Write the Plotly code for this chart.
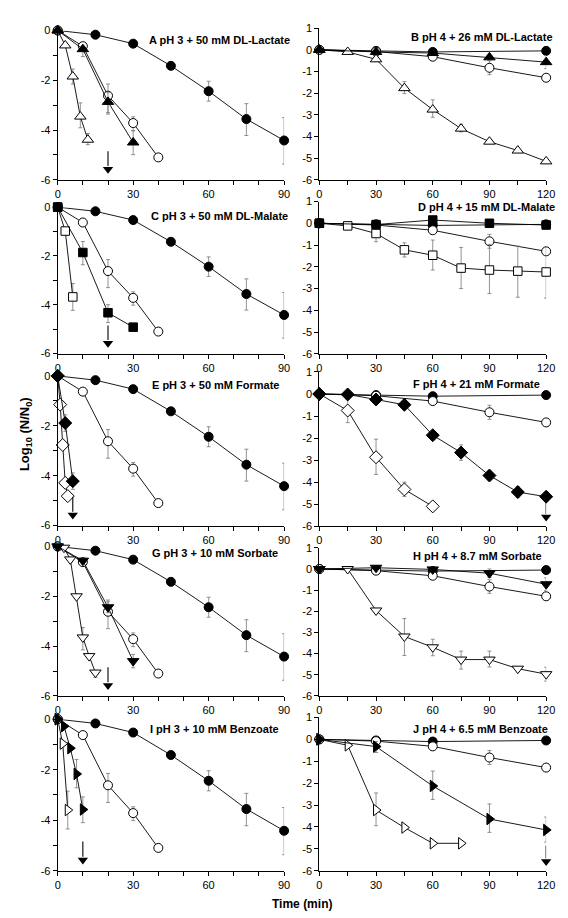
import plotly.graph_objects as go

# ---------------- DATA ----------------
# pH 3 reference curves (shared in A, C, E, G, I)
ctrl3_x = [0, 15, 30, 45, 60, 75, 90]
ctrl3_y = [0, -0.17, -0.53, -1.42, -2.44, -3.56, -4.42]
ctrl3_ep = [0, 0, 0, 0, 0.40, 0.62, 0.92]
ctrl3_em = [0, 0, 0, 0, 0.40, 0.66, 0.95]

oc3_x = [0, 10, 20, 30, 40]
oc3_y = [0, -0.63, -2.62, -3.72, -5.10]
oc3_ep = [0, 0.10, 0.47, 0.25, 0]
oc3_em = [0, 0.10, 0.68, 0.30, 0]

# pH 4 reference curves (shared in B, D, F, H, J)
ctrl4_x = [0, 30, 60, 120]
ctrl4_y = [0, -0.05, -0.10, -0.05]
oc4_x = [0, 30, 60, 90, 120]
oc4_y = [0, -0.08, -0.32, -0.83, -1.29]
oc4_ep = [0, 0, 0.05, 0.32, 0]
oc4_em = [0, 0, 0.05, 0.32, 0]

# A: pH 3 + 50 mM DL-Lactate
a_fill_x = [0, 10, 20, 30]
a_fill_y = [0, -0.75, -2.87, -4.50]
a_fill_ep = [0, 0.10, 0.37, 0.47]
a_fill_em = [0, 0.30, 0.49, 0.49]
a_open_x = [0, 3, 6, 9, 12]
a_open_y = [0, -0.60, -1.85, -3.46, -4.39]
a_open_ep = [0, 0, 0.30, 0.55, 0.25]
a_open_em = [0, 0, 0.30, 0.45, 0.20]

# B: pH 4 + 26 mM DL-Lactate
b_fill_x = [0, 30, 60, 90, 120]
b_fill_y = [0, -0.10, -0.15, -0.35, -0.57]
b_fill_ep = [0, 0, 0, 0.10, 0.30]
b_fill_em = [0, 0, 0, 0.10, 0.30]
b_open_x = [0, 15, 30, 45, 60, 75, 90, 105, 120]
b_open_y = [0, -0.10, -0.44, -1.77, -2.76, -3.64, -4.24, -4.65, -5.15]
b_open_ep = [0, 0, 0.10, 0.30, 0.45, 0.20, 0.05, 0, 0]
b_open_em = [0, 0, 0.10, 0.25, 0.35, 0.15, 0.05, 0, 0]

# C: pH 3 + 50 mM DL-Malate
c_fill_x = [0, 10, 20, 30]
c_fill_y = [0, -1.86, -4.33, -4.92]
c_fill_ep = [0, 0.45, 0.33, 0]
c_fill_em = [0, 0.50, 0.40, 0]
c_open_x = [0, 3, 6]
c_open_y = [0, -0.98, -3.68]
c_open_ep = [0, 0, 0.55]
c_open_em = [0, 0, 0.55]

# D: pH 4 + 15 mM DL-Malate
d_fill_x = [0, 30, 60, 90, 120]
d_fill_y = [0, -0.06, 0.15, 0.0, -0.08]
d_fill_ep = [0, 0, 0, 0, 0]
d_fill_em = [0, 0, 0, 0, 0]
d_open_x = [0, 15, 30, 45, 60, 75, 90, 105, 120]
d_open_y = [0, -0.12, -0.47, -1.22, -1.47, -2.06, -2.15, -2.20, -2.24]
d_open_ep = [0, 0, 0.32, 0.32, 0.70, 0.95, 1.18, 1.15, 1.14]
d_open_em = [0, 0, 0.38, 0.33, 0.68, 0.94, 1.08, 1.20, 1.20]

# E: pH 3 + 50 mM Formate
e_fill_x = [0, 3, 6]
e_fill_y = [0, -1.89, -4.22]
e_fill_ep = [0, 0.33, 0.33]
e_fill_em = [0, 0.33, 0.33]
e_open_x = [0, 1, 2, 3, 4]
e_open_y = [0, -1.15, -2.77, -4.29, -4.82]
e_open_ep = [0, 0, 0, 0, 0]
e_open_em = [0, 0, 0, 0, 0]

# F: pH 4 + 21 mM Formate
f_fill_x = [0, 15, 30, 45, 60, 75, 90, 105, 120]
f_fill_y = [0, -0.02, -0.25, -0.49, -1.87, -2.66, -3.70, -4.45, -4.66]
f_fill_ep = [0, 0, 0, 0.05, 0.15, 0.35, 0.20, 0.25, 0]
f_fill_em = [0, 0, 0, 0.05, 0.15, 0.35, 0.20, 0.25, 0]
f_open_x = [0, 15, 30, 45, 60]
f_open_y = [0, -0.75, -2.87, -4.33, -5.10]
f_open_ep = [0, 0.50, 0.82, 0.33, 0]
f_open_em = [0, 0.55, 0.78, 0.32, 0]

# G: pH 3 + 10 mM Sorbate
g_fill_x = [0, 10, 20, 30]
g_fill_y = [0, -0.57, -2.44, -4.60]
g_fill_ep = [0, 0.05, 0.22, 0.27]
g_fill_em = [0, 0.05, 0.22, 0.27]
g_open_x = [0, 2.5, 5, 7.5, 10, 12.5, 15]
g_open_y = [0, -0.05, -0.52, -2.00, -3.65, -4.40, -5.06]
g_open_ep = [0, 0, 0, 0, 0.40, 0, 0]
g_open_em = [0, 0, 0, 0, 0.50, 0, 0.20]

# H: pH 4 + 8.7 mM Sorbate
h_fill_x = [0, 30, 60, 90, 120]
h_fill_y = [0, 0.06, -0.02, -0.20, -0.72]
h_fill_ep = [0, 0, 0, 0.20, 0.30]
h_fill_em = [0, 0, 0, 0.20, 0.30]
h_open_x = [0, 15, 30, 45, 60, 75, 90, 105, 120]
h_open_y = [0, 0, -1.96, -3.19, -3.70, -4.28, -4.28, -4.71, -4.97]
h_open_ep = [0, 0, 0, 0.85, 0.38, 0.40, 0.40, 0, 0.33]
h_open_em = [0, 0, 0, 0.90, 0.40, 0.45, 0.35, 0, 0.33]

# I: pH 3 + 10 mM Benzoate
i_fill_x = [0, 2.5, 5, 7.5, 10]
i_fill_y = [0, -0.28, -1.15, -2.17, -3.58]
i_fill_ep = [0, 0, 0.10, 0.57, 0.50]
i_fill_em = [0, 0, 0.10, 0.55, 0.52]
i_open_x = [0, 2, 4]
i_open_y = [0, -0.97, -3.60]
i_open_ep = [0, 0, 0.75]
i_open_em = [0, 0, 0.75]

# J: pH 4 + 6.5 mM Benzoate
j_fill_x = [0, 30, 60, 90, 120]
j_fill_y = [0, -0.33, -2.13, -3.64, -4.14]
j_fill_ep = [0, 0.23, 0.68, 0.69, 0.59]
j_fill_em = [0, 0.27, 0.62, 0.61, 0.56]
j_open_x = [0, 15, 30, 45, 60, 75]
j_open_y = [0, -0.27, -3.23, -4.03, -4.75, -4.75]
j_open_ep = [0, 0, 0.78, 0, 0, 0]
j_open_em = [0, 0, 0.72, 0, 0.05, 0]

# below-detection arrows (time, min)
arrow_x = {"A": 20, "C": 20, "E": 6, "F": 120, "G": 20, "I": 10, "J": 120}

panel_titles = {
    "A": "A pH 3 + 50 mM DL-Lactate",
    "B": "B pH 4 + 26 mM DL-Lactate",
    "C": "C pH 3 + 50 mM DL-Malate",
    "D": "D pH 4 + 15 mM DL-Malate",
    "E": "E pH 3 + 50 mM Formate",
    "F": "F pH 4 + 21 mM Formate",
    "G": "G pH 3 + 10 mM Sorbate",
    "H": "H pH 4 + 8.7 mM Sorbate",
    "I": "I pH 3 + 10 mM Benzoate",
    "J": "J pH 4 + 6.5 mM Benzoate",
}

left_xticks = [0, 30, 60, 90]
left_xminor = [10, 20, 40, 50, 70, 80]
right_xticks = [0, 30, 60, 90, 120]
right_xminor = [15, 45, 75, 105]
left_yticks = [0, -2, -4, -6]
left_yminor = [-1, -3, -5]
right_yticks = [1, 0, -1, -2, -3, -4, -5, -6]

# ---------------- LAYOUT GEOMETRY (pixels) ----------------
W, H = 568, 918
LX = (47.7, 279.0)
RX = (315.0, 546.7)
panel_geom = {  # (top px, bottom px)
    "A": (16.7, 168), "B": (14.3, 168),
    "C": (195.7, 344), "D": (190, 344.3),
    "E": (366.7, 518.3), "F": (362.7, 519),
    "G": (539.5, 691), "H": (540.9, 691),
    "I": (714.5, 868), "J": (712.8, 868),
}
title_pos = {  # (right edge px, center y px)
    "A": (287, 26), "B": (556, 23.5), "C": (285, 205), "D": (558, 196),
    "E": (276, 376), "F": (542, 375), "G": (275, 546), "H": (545, 549),
    "I": (276, 724), "J": (551, 724),
}

FONT = "Liberation Sans, Arial, sans-serif"
ERRC = "#777777"

fig = go.Figure()


def add_series(idx, x, y, sym, filled, ep=None, em=None, size=8):
    xa = "x" if idx == 1 else f"x{idx}"
    ya = "y" if idx == 1 else f"y{idx}"
    err = None
    if ep is not None:
        err = dict(type="data", symmetric=False, array=ep, arrayminus=em,
                   color=ERRC, thickness=0.8, width=2)
    fig.add_trace(go.Scatter(
        x=x, y=y, xaxis=xa, yaxis=ya, mode="lines+markers",
        line=dict(color="black", width=0.9),
        marker=dict(symbol=sym, size=size,
                    color="black" if filled else "white",
                    line=dict(color="black", width=1)),
        error_y=err, cliponaxis=False, showlegend=False, hoverinfo="x+y"))


def add_arrow(idx, ax):
    xa = "x" if idx == 1 else f"x{idx}"
    ya = "y" if idx == 1 else f"y{idx}"
    fig.add_trace(go.Scatter(
        x=[ax, ax], y=[-4.85, -5.45], xaxis=xa, yaxis=ya, mode="lines",
        line=dict(color="black", width=1.1), cliponaxis=False,
        showlegend=False, hoverinfo="skip"))
    fig.add_trace(go.Scatter(
        x=[ax], y=[-5.58], xaxis=xa, yaxis=ya, mode="markers",
        marker=dict(symbol="triangle-down", size=9, color="black",
                    line=dict(width=0)),
        cliponaxis=False, showlegend=False, hoverinfo="skip"))


panels = [
    ("A", 1, True, [(a_open_x, a_open_y, "triangle-up", False, a_open_ep, a_open_em, 10),
                    (a_fill_x, a_fill_y, "triangle-up", True, a_fill_ep, a_fill_em, 10)]),
    ("B", 2, False, [(b_open_x, b_open_y, "triangle-up", False, b_open_ep, b_open_em, 10),
                     (b_fill_x, b_fill_y, "triangle-up", True, b_fill_ep, b_fill_em, 10)]),
    ("C", 3, True, [(c_open_x, c_open_y, "square", False, c_open_ep, c_open_em, 8.5),
                    (c_fill_x, c_fill_y, "square", True, c_fill_ep, c_fill_em, 8.5)]),
    ("D", 4, False, [(d_open_x, d_open_y, "square", False, d_open_ep, d_open_em, 8.5),
                     (d_fill_x, d_fill_y, "square", True, d_fill_ep, d_fill_em, 8.5)]),
    ("E", 5, True, [(e_open_x, e_open_y, "diamond", False, e_open_ep, e_open_em, 10),
                    (e_fill_x, e_fill_y, "diamond", True, e_fill_ep, e_fill_em, 10)]),
    ("F", 6, False, [(f_open_x, f_open_y, "diamond", False, f_open_ep, f_open_em, 10),
                     (f_fill_x, f_fill_y, "diamond", True, f_fill_ep, f_fill_em, 10)]),
    ("G", 7, True, [(g_open_x, g_open_y, "triangle-down", False, g_open_ep, g_open_em, 10),
                    (g_fill_x, g_fill_y, "triangle-down", True, g_fill_ep, g_fill_em, 10)]),
    ("H", 8, False, [(h_open_x, h_open_y, "triangle-down", False, h_open_ep, h_open_em, 10),
                     (h_fill_x, h_fill_y, "triangle-down", True, h_fill_ep, h_fill_em, 10)]),
    ("I", 9, True, [(i_open_x, i_open_y, "triangle-right", False, i_open_ep, i_open_em, 10),
                    (i_fill_x, i_fill_y, "triangle-right", True, i_fill_ep, i_fill_em, 10)]),
    ("J", 10, False, [(j_open_x, j_open_y, "triangle-right", False, j_open_ep, j_open_em, 10),
                      (j_fill_x, j_fill_y, "triangle-right", True, j_fill_ep, j_fill_em, 10)]),
]

annotations = []
layout_axes = {}
tickfont = dict(family=FONT, size=11, color="black")

for key, idx, is_left, series in panels:
    # reference curves
    if is_left:
        add_series(idx, ctrl3_x, ctrl3_y, "circle", True, ctrl3_ep, ctrl3_em, 9)
        add_series(idx, oc3_x, oc3_y, "circle", False, oc3_ep, oc3_em, 9)
    else:
        add_series(idx, ctrl4_x, ctrl4_y, "circle", True, None, None, 9)
        add_series(idx, oc4_x, oc4_y, "circle", False, oc4_ep, oc4_em, 9)
    for (sx, sy, sym, filled, ep, em, sz) in series:
        add_series(idx, sx, sy, sym, filled, ep, em, sz)
    if key in arrow_x:
        add_arrow(idx, arrow_x[key])

    top, bot = panel_geom[key]
    xd = LX if is_left else RX
    xname = "xaxis" if idx == 1 else f"xaxis{idx}"
    yname = "yaxis" if idx == 1 else f"yaxis{idx}"
    xref = "x" if idx == 1 else f"x{idx}"
    yref = "y" if idx == 1 else f"y{idx}"
    xt = left_xticks if is_left else right_xticks
    xm = left_xminor if is_left else right_xminor
    yt = left_yticks if is_left else right_yticks
    layout_axes[xname] = dict(
        domain=[xd[0] / W, xd[1] / W], anchor=yref,
        range=[0, 90 if is_left else 120],
        tickvals=xt, ticktext=[str(v) for v in xt],
        ticks="outside", ticklen=4, tickwidth=1, tickcolor="black",
        minor=dict(tickvals=xm, ticks="outside", ticklen=4, tickwidth=1, tickcolor="black"),
        showline=True, linecolor="black", linewidth=1,
        showgrid=False, zeroline=False, tickfont=tickfont, fixedrange=True)
    layout_axes[yname] = dict(
        domain=[1 - bot / H, 1 - top / H], anchor=xref,
        range=[-6, 0 if is_left else 1],
        tickvals=yt, ticktext=[str(v) for v in yt],
        ticks="outside", ticklen=4, tickwidth=1, tickcolor="black",
        showline=True, linecolor="black", linewidth=1,
        showgrid=False, zeroline=False, tickfont=tickfont, fixedrange=True)
    if is_left:
        layout_axes[yname]["minor"] = dict(tickvals=left_yminor, ticks="outside",
                                           ticklen=4, tickwidth=1, tickcolor="black")
    rx, cy = title_pos[key]
    annotations.append(dict(
        text="<b>" + panel_titles[key] + "</b>", xref="paper", yref="paper",
        x=rx / W, y=1 - cy / H, xanchor="right", yanchor="middle", showarrow=False,
        font=dict(family=FONT, size=11, color="black")))

annotations.append(dict(
    text="<b>Log<sub>10</sub> (N/N<sub>0</sub>)</b>", xref="paper", yref="paper",
    x=15 / W, y=1 - 426 / H, xanchor="center", yanchor="middle", textangle=-90,
    showarrow=False, font=dict(family=FONT, size=13, color="black")))
annotations.append(dict(
    text="<b>Time (min)</b>", xref="paper", yref="paper",
    x=297 / W, y=1 - 902 / H, xanchor="center", yanchor="middle",
    showarrow=False, font=dict(family=FONT, size=12, color="black")))

fig.update_layout(
    width=W, height=H, margin=dict(l=0, r=0, t=0, b=0),
    paper_bgcolor="white", plot_bgcolor="white",
    annotations=annotations, showlegend=False, **layout_axes)

fig.write_html("out.html")
